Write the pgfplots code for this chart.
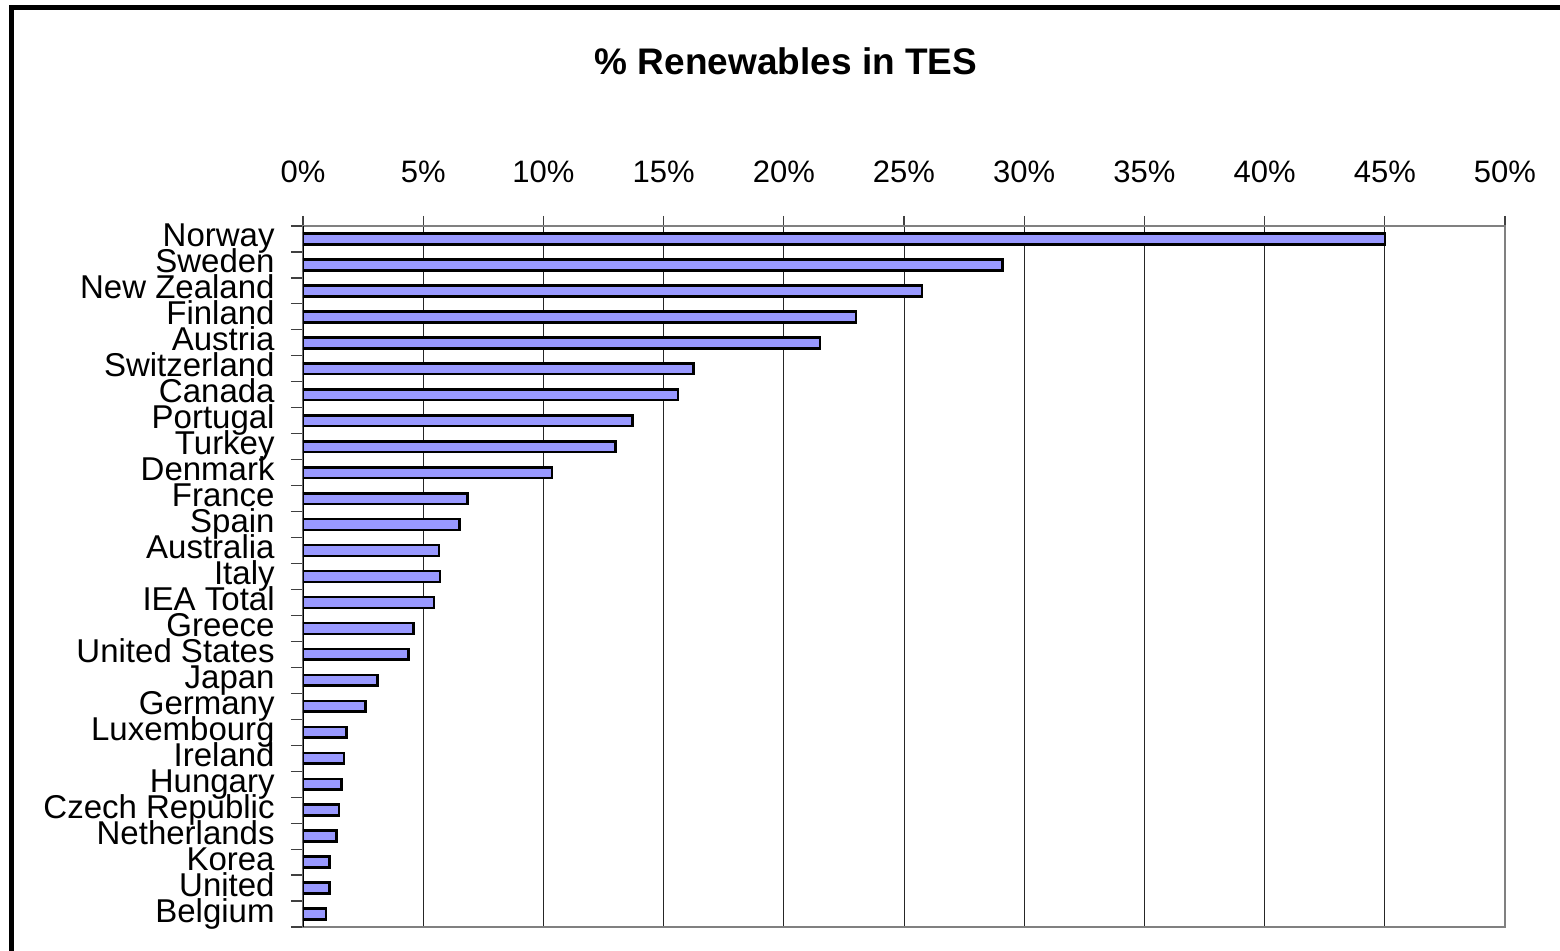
\documentclass[border=0pt]{standalone}
\usepackage{fontspec}
\setmainfont{Liberation Sans}
\usepackage{pgfplots}
\pgfplotsset{compat=1.18}
\usepackage{pgfplotstable}
\definecolor{barfill}{RGB}{153,153,255}
\pgfplotstableread{
idx val
0 45.0
1 29.1
2 25.75
3 23.0
4 21.5
5 16.25
6 15.6
7 13.7
8 13.0
9 10.35
10 6.85
11 6.5
12 5.65
13 5.7
14 5.45
15 4.6
16 4.4
17 3.1
18 2.6
19 1.8
20 1.7
21 1.6
22 1.5
23 1.4
24 1.1
25 1.1
26 0.95
}\datatable
\begin{document}
\begin{tikzpicture}
\useasboundingbox (0,0) rectangle (780pt,475.5pt);
\fill[white] (0,0) rectangle (780pt,475.5pt);
\draw[line width=2.5pt] (5.75pt,-20pt) -- (5.75pt,471.75pt) -- (800pt,471.75pt);
\node[anchor=base, inner sep=0pt, font=\fontsize{18.5}{22}\selectfont\bfseries] at (393pt,438pt) {\% Renewables in TES};
\begin{axis}[
  at={(151.5pt,12pt)}, anchor=south west,
  scale only axis, width=601pt, height=350.5pt,
  xbar, bar width=5.4pt,
  xmin=0, xmax=50, ymin=-0.5, ymax=26.5, y dir=reverse,
  xtick={0,5,...,50},
  xticklabels={0\%,5\%,10\%,15\%,20\%,25\%,30\%,35\%,40\%,45\%,50\%},
  xtick pos=right, xticklabel pos=right,
  xmajorgrids, grid style={black!85, line width=0.5pt},
  ytick={0,...,26},
  yticklabels={Norway,Sweden,New Zealand,Finland,Austria,Switzerland,Canada,Portugal,Turkey,Denmark,France,Spain,Australia,Italy,IEA Total,Greece,United States,Japan,Germany,Luxembourg,Ireland,Hungary,Czech Republic,Netherlands,Korea,United,Belgium},
  minor ytick={-0.5,0.5,...,26.5},
  every major y tick/.append style={draw=none},
  ytick pos=left,
  tick align=outside,
  major tick length=5pt, minor tick length=6pt,
  tick style={black!75, line width=0.6pt},
  axis line style={gray, line width=1pt},
  xticklabel style={font=\fontsize{15.5}{18}\selectfont, anchor=base, inner sep=0pt, yshift=16.5pt},
  yticklabel style={font=\fontsize{16.5}{19}\selectfont, anchor=base east, inner sep=0pt, yshift=-4pt, xshift=-9pt},
]
\addplot[fill=barfill, draw=black, line width=1.3pt] table[x=val, y=idx] {\datatable};
\draw[black, line width=0.8pt] (rel axis cs:0,0) -- (rel axis cs:0,1);
\end{axis}
\end{tikzpicture}
\end{document}
